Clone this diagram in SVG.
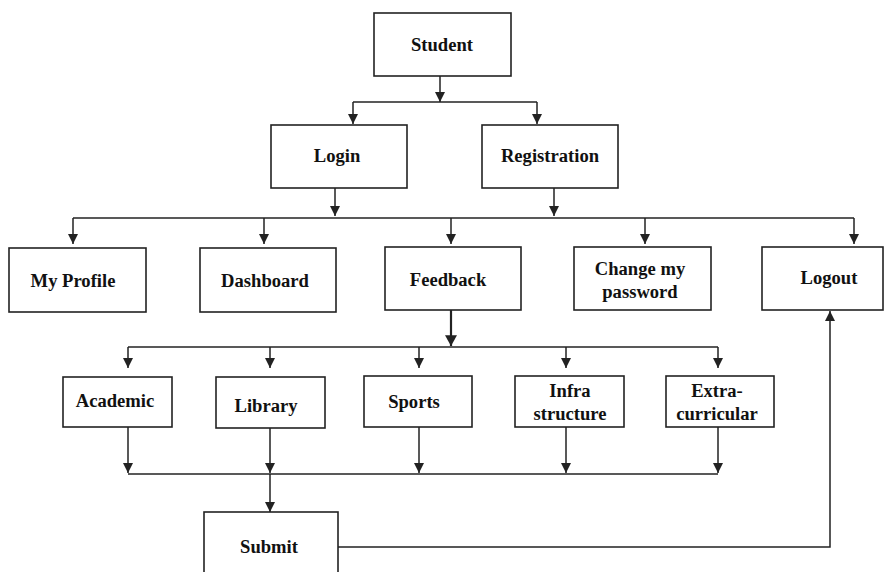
<svg xmlns="http://www.w3.org/2000/svg" width="885" height="572" viewBox="0 0 885 572">
<style>
.box{fill:#fff;stroke:#222;stroke-width:1.6}
.lbl{font-family:"Liberation Serif","Times New Roman",serif;font-weight:bold;font-size:18.6px;fill:#111;text-anchor:middle}
.c{fill:none;stroke:#222;stroke-width:1.5}
.ca{fill:none;stroke:#222;stroke-width:1.5;marker-end:url(#ah)}
.cb{fill:none;stroke:#222;stroke-width:2.2;marker-end:url(#ahb)}
</style>
<defs>
<marker id="ah" markerUnits="userSpaceOnUse" markerWidth="10" markerHeight="10" refX="8" refY="4" orient="auto" viewBox="0 0 8 8">
<path d="M0,0 L8,4 L0,8 Z" fill="#222"/>
</marker>
<marker id="ahb" markerUnits="userSpaceOnUse" markerWidth="12" markerHeight="12" refX="9" refY="5" orient="auto" viewBox="0 0 9 10">
<path d="M0,0 L9,5 L0,10 Z" fill="#222"/>
</marker>
</defs>
<rect width="885" height="572" fill="#fff"/>
<g id="connectors">
<path class="c" d="M440,76 V94"/><path class="ca" d="M440,92 V102"/>
<path class="c" d="M353,102 H537"/>
<path class="ca" d="M353,102 V124"/><path class="ca" d="M537,102 V124"/>
<path class="ca" d="M335,188 V216"/><path class="ca" d="M554,188 V216"/>
<path class="c" d="M73,218 H854"/>
<path class="ca" d="M73,218 V244"/><path class="ca" d="M264,218 V244"/><path class="ca" d="M451,218 V244"/><path class="ca" d="M645,218 V244"/><path class="ca" d="M854,218 V244"/>
<path class="cb" d="M451,310 V346"/>
<path class="c" d="M128,347 H718"/>
<path class="ca" d="M128,347 V368"/><path class="ca" d="M270,347 V368"/><path class="ca" d="M419,347 V368"/><path class="ca" d="M566,347 V368"/><path class="ca" d="M718,347 V368"/>
<path class="ca" d="M128,427 V473"/><path class="ca" d="M270,428 V473"/><path class="ca" d="M419,427 V473"/><path class="ca" d="M566,427 V473"/><path class="ca" d="M718,427 V473"/>
<path class="c" d="M128,474 H718"/>
<path class="ca" d="M270,474 V512"/>
<path class="ca" d="M338,547 H830 V311"/>
</g>
<g id="student"><rect class="box" x="374" y="13" width="137" height="63"/><text class="lbl" x="442" y="51">Student</text></g>
<g id="login"><rect class="box" x="271" y="125" width="136" height="63"/><text class="lbl" x="337" y="162">Login</text></g>
<g id="registration"><rect class="box" x="482" y="125" width="136" height="63"/><text class="lbl" x="550" y="162">Registration</text></g>
<g id="myprofile"><rect class="box" x="9" y="248" width="137" height="64"/><text class="lbl" x="73" y="287">My Profile</text></g>
<g id="dashboard"><rect class="box" x="200" y="248" width="136" height="64"/><text class="lbl" x="265" y="287">Dashboard</text></g>
<g id="feedback"><rect class="box" x="385" y="247" width="136" height="63"/><text class="lbl" x="448" y="286">Feedback</text></g>
<g id="changepassword"><rect class="box" x="574" y="247" width="137" height="63"/><text class="lbl" x="640" y="275">Change my</text><text class="lbl" x="640" y="298">password</text></g>
<g id="logout"><rect class="box" x="762" y="247" width="121" height="63"/><text class="lbl" x="829" y="284">Logout</text></g>
<g id="academic"><rect class="box" x="63" y="377" width="109" height="50"/><text class="lbl" x="115" y="407">Academic</text></g>
<g id="library"><rect class="box" x="216" y="377" width="109" height="51"/><text class="lbl" x="266" y="412">Library</text></g>
<g id="sports"><rect class="box" x="364" y="376" width="108" height="51"/><text class="lbl" x="414" y="408">Sports</text></g>
<g id="infrastructure"><rect class="box" x="515" y="376" width="109" height="51"/><text class="lbl" x="570" y="397">Infra</text><text class="lbl" x="570" y="420">structure</text></g>
<g id="extracurricular"><rect class="box" x="666" y="376" width="108" height="51"/><text class="lbl" x="717" y="397">Extra-</text><text class="lbl" x="717" y="420">curricular</text></g>
<g id="submit"><rect class="box" x="204" y="512" width="134" height="64"/><text class="lbl" x="269" y="553">Submit</text></g>
</svg>
